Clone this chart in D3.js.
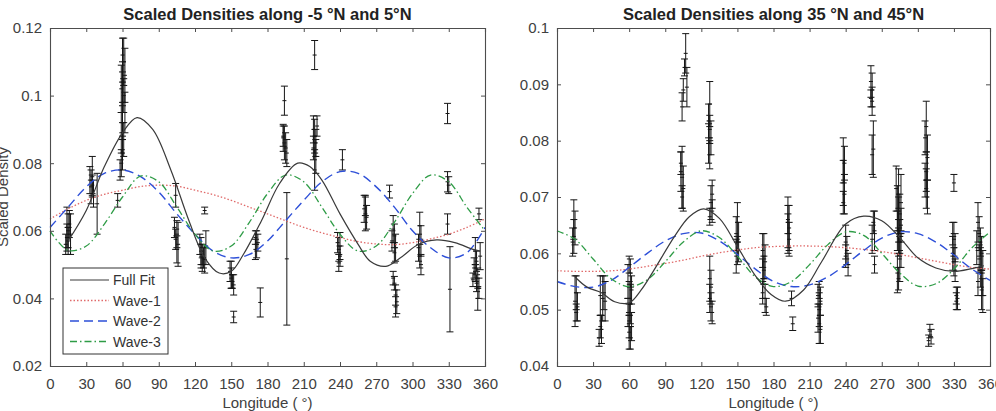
<!DOCTYPE html>
<html>
<head>
<meta charset="utf-8">
<script src="https://cdn.jsdelivr.net/npm/d3@7/dist/d3.min.js"></script>
<style>
  body { margin: 0; background: #fff; }
  svg text { font-family: "Liberation Sans", Arial, sans-serif; }
</style>
</head>
<body>
<div id="chart"></div>
<script>
const waveLon = [0, 15, 30, 45, 60, 75, 90, 105, 120, 135, 150, 165, 180,
                 195, 210, 225, 240, 255, 270, 285, 300, 315, 330, 345, 360];
const xTicks = [0, 30, 60, 90, 120, 150, 180, 210, 240, 270, 300, 330, 360];

// ---- panel 1 : -5N / 5N
const leftTitle = "Scaled Densities along -5 \u00B0N and 5\u00B0N";
const leftYTicks = [0.02, 0.04, 0.06, 0.08, 0.1, 0.12];
const leftFitLon = [15, 30, 45, 60, 72, 85, 100, 115, 128, 140, 150, 160, 175, 190,
                    205, 215, 225, 240, 255, 265, 278, 290, 305, 320, 335, 350, 356];
const leftFitVal = [0.057, 0.066, 0.079, 0.089, 0.0935, 0.090, 0.078, 0.063, 0.052, 0.0475,
                    0.048, 0.053, 0.063, 0.074, 0.080, 0.079, 0.075, 0.065, 0.056, 0.051,
                    0.0495, 0.052, 0.056, 0.0573, 0.0565, 0.0545, 0.054];
const leftWave1 = [0.0635, 0.0665, 0.069, 0.0708, 0.072, 0.0731, 0.0735, 0.0732, 0.072, 0.0707,
                   0.069, 0.067, 0.065, 0.063, 0.061, 0.0594, 0.058, 0.0568, 0.0561, 0.0559,
                   0.0565, 0.0576, 0.059, 0.061, 0.0635];
const leftWave2 = [0.061, 0.067, 0.073, 0.077, 0.078, 0.076, 0.0715, 0.065, 0.059, 0.054,
                   0.052, 0.053, 0.057, 0.063, 0.069, 0.0745, 0.0775, 0.077, 0.073, 0.067,
                   0.060, 0.055, 0.052, 0.0535, 0.061];
const leftWave3 = [0.060, 0.0542, 0.0555, 0.062, 0.070, 0.0762, 0.0745, 0.067, 0.059, 0.054,
                   0.0555, 0.0625, 0.071, 0.0765, 0.0745, 0.067, 0.059, 0.054, 0.0555, 0.0625,
                   0.071, 0.0765, 0.0745, 0.067, 0.060];
// [longitude, density, error]
const leftBars = [
  [14, 0.058, 0.004], [15, 0.060, 0.005], [13, 0.056, 0.003], [16, 0.062, 0.004],
  [15, 0.057, 0.004], [17, 0.059, 0.006], [14, 0.061, 0.006],
  [33, 0.075, 0.004], [35, 0.076, 0.006], [34, 0.073, 0.005], [36, 0.071, 0.004],
  [39, 0.068, 0.009], [35, 0.0735, 0.003],
  [56, 0.069, 0.002], [58, 0.078, 0.003], [59, 0.080, 0.004], [60, 0.083, 0.005],
  [61, 0.087, 0.005], [59, 0.089, 0.006], [60, 0.092, 0.005], [62, 0.095, 0.006],
  [60, 0.098, 0.006], [61, 0.100, 0.005], [59, 0.102, 0.007], [60, 0.104, 0.006],
  [62, 0.106, 0.008], [61, 0.110, 0.007], [60, 0.112, 0.005],
  [104, 0.0705, 0.0035], [103, 0.061, 0.003], [105, 0.059, 0.004], [104, 0.0575, 0.003],
  [106, 0.056, 0.0065], [105, 0.0545, 0.004],
  [128, 0.066, 0.001], [124, 0.056, 0.003], [125, 0.054, 0.004], [126, 0.053, 0.003],
  [127, 0.052, 0.003], [128, 0.0515, 0.004], [129, 0.055, 0.005], [126, 0.050, 0.002],
  [125, 0.0525, 0.0035],
  [149, 0.048, 0.003], [150, 0.047, 0.004], [151, 0.045, 0.002], [152, 0.044, 0.003],
  [150, 0.046, 0.003], [152, 0.0345, 0.0017],
  [170, 0.058, 0.002], [171, 0.056, 0.004], [172, 0.0565, 0.0025], [170, 0.0545, 0.003],
  [174, 0.0388, 0.0043],
  [196, 0.0517, 0.0196], [194, 0.0985, 0.0043], [193, 0.0875, 0.004], [194, 0.086, 0.005],
  [195, 0.0845, 0.0045], [193, 0.088, 0.003], [196, 0.083, 0.004],
  [219, 0.112, 0.0043], [218, 0.090, 0.004], [219, 0.088, 0.005], [220, 0.086, 0.004],
  [218, 0.0845, 0.0035], [220, 0.082, 0.005], [219, 0.078, 0.006], [221, 0.091, 0.003],
  [242, 0.081, 0.003], [238, 0.0565, 0.003], [239, 0.0545, 0.0035], [240, 0.0525, 0.003],
  [239, 0.0505, 0.0025], [240, 0.0555, 0.004],
  [260, 0.0665, 0.004], [261, 0.065, 0.005], [262, 0.064, 0.0035], [261, 0.0675, 0.003],
  [281, 0.0716, 0.0019],
  [284, 0.0605, 0.004], [285, 0.0585, 0.0035], [283, 0.057, 0.003], [286, 0.055, 0.004],
  [285, 0.0535, 0.003], [284, 0.046, 0.002], [285, 0.0445, 0.002], [286, 0.041, 0.003],
  [287, 0.039, 0.0035], [286, 0.0375, 0.003],
  [306, 0.0615, 0.004], [307, 0.057, 0.0045], [305, 0.055, 0.004], [306, 0.0525, 0.0035],
  [307, 0.050, 0.003],
  [329, 0.0947, 0.003], [329, 0.0745, 0.003], [330, 0.0735, 0.0025], [329, 0.062, 0.003],
  [331, 0.0427, 0.0126],
  [355, 0.065, 0.0017], [352, 0.054, 0.004], [353, 0.051, 0.003], [351, 0.049, 0.003],
  [352, 0.0475, 0.0025], [354, 0.046, 0.003], [350, 0.0455, 0.002], [353, 0.0445, 0.0025],
  [355, 0.043, 0.003], [354, 0.040, 0.0035], [356, 0.0525, 0.004]
];

// ---- panel 2 : 35N / 45N
const rightTitle = "Scaled Densities along 35 \u00B0N and 45\u00B0N";
const rightYTicks = [0.04, 0.05, 0.06, 0.07, 0.08, 0.09, 0.1];
const rightFitLon = [15, 25, 37, 48, 60, 70, 80, 98, 110, 122, 135, 150, 165, 178, 190,
                     205, 220, 240, 255, 270, 285, 300, 315, 330, 345, 355];
const rightFitVal = [0.0558, 0.054, 0.053, 0.0514, 0.0512, 0.0535, 0.0568, 0.0631, 0.0665,
                     0.0679, 0.0662, 0.0612, 0.056, 0.0527, 0.0515, 0.0535, 0.0585, 0.0652,
                     0.0666, 0.0658, 0.0628, 0.0592, 0.0574, 0.0568, 0.0573, 0.0578];
const rightWave1 = [0.0569, 0.0568, 0.0568, 0.0569, 0.0572, 0.0577, 0.0582, 0.0588, 0.0595,
                    0.0601, 0.0606, 0.061, 0.0612, 0.0613, 0.0613, 0.0612, 0.061, 0.0607,
                    0.0603, 0.0598, 0.0592, 0.0586, 0.058, 0.0575, 0.0572];
const rightWave2 = [0.055, 0.0541, 0.054, 0.0552, 0.0575, 0.06, 0.0622, 0.0635, 0.0636,
                    0.0622, 0.0598, 0.0572, 0.055, 0.0541, 0.0544, 0.0558, 0.058, 0.0605,
                    0.0627, 0.0638, 0.0635, 0.062, 0.0597, 0.0572, 0.0552];
const rightWave3 = [0.064, 0.0625, 0.059, 0.0555, 0.0541, 0.0553, 0.0585, 0.062, 0.064,
                    0.0628, 0.0595, 0.0558, 0.0541, 0.055, 0.058, 0.0615, 0.0638, 0.0632,
                    0.06, 0.0565, 0.0542, 0.0546, 0.0572, 0.061, 0.0638];
const rightBars = [
  [14, 0.066, 0.0035], [15, 0.0645, 0.003], [14, 0.063, 0.003], [13, 0.062, 0.0025],
  [16, 0.053, 0.003], [17, 0.0505, 0.0025], [16, 0.0495, 0.0015], [15, 0.0515, 0.0045],
  [36, 0.0525, 0.0035], [38, 0.052, 0.004], [40, 0.0515, 0.0035], [36, 0.047, 0.002],
  [37, 0.0465, 0.0025], [35, 0.045, 0.0015], [39, 0.053, 0.003],
  [60, 0.058, 0.0015], [61, 0.0565, 0.0025], [59, 0.055, 0.003], [62, 0.0535, 0.0025],
  [60, 0.052, 0.003], [61, 0.051, 0.0035], [59, 0.0495, 0.0025], [60, 0.048, 0.003],
  [62, 0.047, 0.0025], [60, 0.046, 0.003], [61, 0.045, 0.002],
  [107, 0.0955, 0.0035], [106, 0.093, 0.0015], [108, 0.0895, 0.0035], [105, 0.089, 0.002],
  [104, 0.086, 0.0025], [103, 0.0745, 0.0035], [104, 0.0735, 0.0055], [105, 0.0715, 0.004],
  [103, 0.076, 0.002], [104, 0.070, 0.002],
  [127, 0.0865, 0.004], [126, 0.0835, 0.003], [127, 0.082, 0.0025], [128, 0.0805, 0.003],
  [126, 0.0795, 0.0035], [127, 0.0775, 0.0025], [129, 0.0705, 0.0025], [128, 0.069, 0.003],
  [129, 0.0675, 0.002], [127, 0.0665, 0.0015], [127, 0.0555, 0.004], [128, 0.054, 0.003],
  [127, 0.052, 0.0025], [128, 0.0505, 0.0025], [129, 0.0495, 0.002],
  [150, 0.0655, 0.0035], [149, 0.0635, 0.003], [151, 0.062, 0.0035], [150, 0.0605, 0.0025],
  [149, 0.0595, 0.003],
  [171, 0.0605, 0.003], [172, 0.0595, 0.004], [173, 0.0585, 0.003], [172, 0.057, 0.0025],
  [171, 0.053, 0.002], [173, 0.052, 0.0025], [174, 0.0505, 0.0015], [171, 0.0555, 0.0035],
  [195, 0.052, 0.0013], [196, 0.0475, 0.0012], [192, 0.0655, 0.0045], [193, 0.0645, 0.004],
  [192, 0.0635, 0.0035], [193, 0.0625, 0.003], [192, 0.066, 0.0025],
  [218, 0.0535, 0.0015], [217, 0.0525, 0.002], [219, 0.0515, 0.0025], [218, 0.050, 0.003],
  [217, 0.0485, 0.0025], [218, 0.0475, 0.0035], [219, 0.0465, 0.0025],
  [238, 0.0765, 0.004], [239, 0.076, 0.003], [238, 0.0725, 0.004], [239, 0.0705, 0.0035],
  [238, 0.069, 0.002], [240, 0.062, 0.003], [241, 0.0605, 0.0025], [240, 0.0595, 0.002],
  [242, 0.058, 0.002],
  [261, 0.0905, 0.0028], [262, 0.089, 0.003], [261, 0.0875, 0.0015], [262, 0.087, 0.0025],
  [263, 0.0785, 0.005], [262, 0.0775, 0.0035], [263, 0.0655, 0.002], [264, 0.064, 0.0035],
  [262, 0.0625, 0.0025], [264, 0.058, 0.0015],
  [282, 0.0715, 0.004], [284, 0.0705, 0.0045], [286, 0.069, 0.005], [283, 0.068, 0.004],
  [285, 0.067, 0.0035], [284, 0.066, 0.004], [286, 0.065, 0.003], [283, 0.064, 0.0035],
  [285, 0.063, 0.003], [284, 0.062, 0.0025], [286, 0.0605, 0.003], [285, 0.059, 0.004],
  [283, 0.0565, 0.0035], [284, 0.0555, 0.002],
  [307, 0.0825, 0.0045], [306, 0.0805, 0.003], [308, 0.077, 0.004], [307, 0.0745, 0.0035],
  [306, 0.073, 0.003], [307, 0.0715, 0.0035], [308, 0.070, 0.003],
  [310, 0.0462, 0.0012], [311, 0.0452, 0.0013], [309, 0.0445, 0.001],
  [330, 0.0725, 0.0015], [329, 0.0635, 0.002], [330, 0.0625, 0.003], [331, 0.061, 0.0025],
  [329, 0.060, 0.003], [330, 0.0585, 0.0025], [331, 0.057, 0.002], [332, 0.0525, 0.0015],
  [333, 0.052, 0.002], [332, 0.0515, 0.0015],
  [350, 0.0655, 0.0035], [351, 0.0635, 0.003], [352, 0.062, 0.0025], [349, 0.061, 0.003],
  [353, 0.060, 0.003], [351, 0.059, 0.0025], [352, 0.0575, 0.0035], [354, 0.0565, 0.004],
  [350, 0.055, 0.0025], [353, 0.0535, 0.0035], [354, 0.0525, 0.003]
];

const legendNames = ["Full Fit", "Wave-1", "Wave-2", "Wave-3"];

const styles = [
  { color: "#3a3a3a", dash: null, width: 1.2 },
  { color: "#e06a6a", dash: "1.5,2", width: 1.3 },
  { color: "#2d4fd8", dash: "9,5", width: 1.4 },
  { color: "#2e9c46", dash: "7,3,1.5,3", width: 1.3 }
];

const svg = d3.select("#chart").append("svg")
  .attr("width", 996)
  .attr("height", 411);

function drawPanel(p) {
  var x = d3.scaleLinear().domain([0, 360]).range([p.left, p.right]);
  var y = d3.scaleLinear().domain([p.yTicks[0], p.yTicks[p.yTicks.length - 1]]).range([p.bottom, p.top]);

  var g = svg.append("g");

  // error bars
  var bars = g.append("g").attr("stroke", "#151515").attr("stroke-width", 1).attr("fill", "none");
  p.bars.forEach(function (b) {
    var bx = x(b[0]);
    var y0 = y(b[1] - b[2]), y1 = y(b[1] + b[2]), ym = y(b[1]);
    bars.append("line").attr("x1", bx).attr("x2", bx).attr("y1", y0).attr("y2", y1);
    bars.append("line").attr("x1", bx - 3.5).attr("x2", bx + 3.5).attr("y1", y0).attr("y2", y0);
    bars.append("line").attr("x1", bx - 3.5).attr("x2", bx + 3.5).attr("y1", y1).attr("y2", y1);
    bars.append("line").attr("x1", bx - 2).attr("x2", bx + 2).attr("y1", ym).attr("y2", ym);
  });

  // fitted curves
  var line = d3.line()
    .x(d => x(d[0]))
    .y(d => y(d[1]))
    .curve(d3.curveCatmullRom.alpha(0.5));

  var series = [
    d3.zip(p.fitLon, p.fitVal),
    d3.zip(waveLon, p.wave1),
    d3.zip(waveLon, p.wave2),
    d3.zip(waveLon, p.wave3)
  ];
  // draw waves first, full fit on top
  [1, 2, 3, 0].forEach(function (i) {
    g.append("path")
      .attr("d", line(series[i]))
      .attr("fill", "none")
      .attr("stroke", styles[i].color)
      .attr("stroke-width", styles[i].width)
      .attr("stroke-dasharray", styles[i].dash);
  });

  // axes, ticks inside like matlab
  var axB = d3.axisBottom(x).tickValues(xTicks).tickSize(-4).tickPadding(12).tickFormat(d3.format("d"));
  var axT = d3.axisTop(x).tickValues(xTicks).tickSize(-4).tickFormat("");
  var axL = d3.axisLeft(y).tickValues(p.yTicks).tickSize(-4).tickPadding(8).tickFormat(d => String(+d.toFixed(2)));
  var axR = d3.axisRight(y).tickValues(p.yTicks).tickSize(-4).tickFormat("");

  [[axB, `translate(0,${p.bottom})`], [axT, `translate(0,${p.top})`],
   [axL, `translate(${p.left},0)`], [axR, `translate(${p.right},0)`]].forEach(function (a) {
    var ag = g.append("g").attr("transform", a[1]).call(a[0]);
    ag.select(".domain").attr("stroke", "#4d4d4d").attr("stroke-width", 1.1);
    ag.selectAll(".tick line").attr("stroke", "#4d4d4d");
    ag.selectAll("text").attr("fill", "#404040").style("font-size", "15px");
  });

  // title
  g.append("text")
    .attr("x", (p.left + p.right) / 2)
    .attr("y", 20)
    .attr("text-anchor", "middle")
    .attr("fill", "#222")
    .style("font-size", "16.5px")
    .style("font-weight", "bold")
    .text(p.title);

  // x label
  g.append("text")
    .attr("x", (p.left + p.right) / 2)
    .attr("y", 408)
    .attr("text-anchor", "middle")
    .attr("fill", "#404040")
    .style("font-size", "15px")
    .text("Longitude ( \u00B0)");

  if (p.yLabel) {
    g.append("text")
      .attr("transform", `translate(8,${(p.top + p.bottom) / 2}) rotate(-90)`)
      .attr("text-anchor", "middle")
      .attr("fill", "#404040")
      .style("font-size", "15px")
      .text(p.yLabel);
  }

  if (p.legend) {
    var lg = g.append("g").attr("transform", "translate(63,268)");
    lg.append("rect").attr("width", 105).attr("height", 86)
      .attr("fill", "#fff").attr("stroke", "#333").attr("stroke-width", 1);
    legendNames.forEach(function (name, i) {
      var ly = 12 + i * 20.5;
      lg.append("line").attr("x1", 7).attr("x2", 46).attr("y1", ly).attr("y2", ly)
        .attr("stroke", styles[i].color).attr("stroke-width", styles[i].width)
        .attr("stroke-dasharray", styles[i].dash);
      lg.append("text").attr("x", 50).attr("y", ly + 5)
        .attr("fill", "#333").style("font-size", "14px").text(name);
    });
  }
}

drawPanel({
  left: 50, right: 485, top: 28, bottom: 366,
  yTicks: leftYTicks, title: leftTitle, yLabel: "Scaled Density", legend: true,
  fitLon: leftFitLon, fitVal: leftFitVal,
  wave1: leftWave1, wave2: leftWave2, wave3: leftWave3, bars: leftBars
});

drawPanel({
  left: 557, right: 990, top: 28, bottom: 366,
  yTicks: rightYTicks, title: rightTitle, yLabel: null, legend: false,
  fitLon: rightFitLon, fitVal: rightFitVal,
  wave1: rightWave1, wave2: rightWave2, wave3: rightWave3, bars: rightBars
});
</script>
</body>
</html>
